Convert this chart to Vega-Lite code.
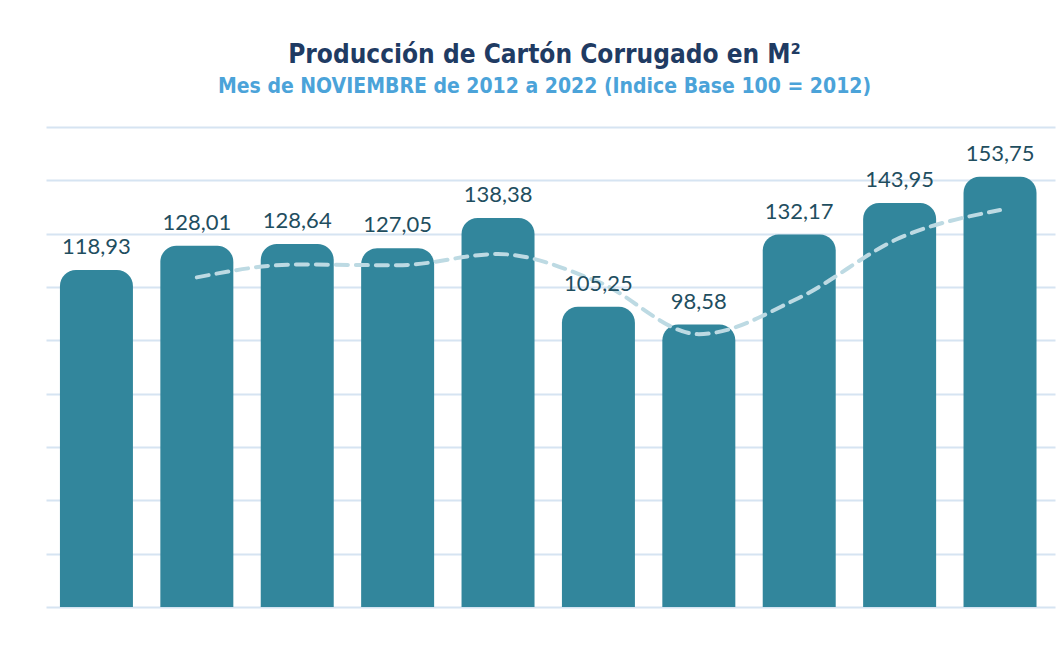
{
  "$schema": "https://vega.github.io/schema/vega-lite/v6.json",
  "width": 1009,
  "height": 480,
  "autosize": {"type": "none"},
  "padding": {"left": 46, "top": 127, "right": 9, "bottom": 46},
  "background": "white",
  "config": {
    "view": {"stroke": null},
    "locale": {"number": {"decimal": ",", "thousands": ".", "grouping": [3], "currency": ["", "€"]}}
  },
  "title": {
    "text": "Producción de Cartón Corrugado en M²",
    "subtitle": "Mes de NOVIEMBRE de 2012 a 2022 (Indice Base 100 = 2012)",
    "anchor": "middle",
    "font": "DejaVu Sans Condensed",
    "fontSize": 26,
    "fontWeight": "bold",
    "color": "#1F3B63",
    "subtitleFont": "DejaVu Sans Condensed",
    "subtitleFontSize": 21,
    "subtitleFontWeight": "bold",
    "subtitleColor": "#4BA3D9",
    "subtitlePadding": 8,
    "offset": 30,
    "dx": -6
  },
  "data": {
    "values": [
      {"anio": "2013", "valor": 118.93, "tendencia": null},
      {"anio": "2014", "valor": 128.01, "tendencia": 116.2},
      {"anio": "2015", "valor": 128.64, "tendencia": 121.0},
      {"anio": "2016", "valor": 127.05, "tendencia": 120.7},
      {"anio": "2017", "valor": 138.38, "tendencia": 124.9},
      {"anio": "2018", "valor": 105.25, "tendencia": 114.5},
      {"anio": "2019", "valor": 98.58, "tendencia": 95.0},
      {"anio": "2020", "valor": 132.17, "tendencia": 108.6},
      {"anio": "2021", "valor": 143.95, "tendencia": 130.9},
      {"anio": "2022", "valor": 153.75, "tendencia": 141.3}
    ]
  },
  "encoding": {
    "x": {"field": "anio", "type": "ordinal", "axis": null, "scale": {"paddingInner": 0.273, "paddingOuter": 0.1615, "align": 0.43}}
  },
  "layer": [
    {
      "mark": {"type": "bar", "color": "#32869C", "cornerRadiusTopLeft": 16, "cornerRadiusTopRight": 16},
      "encoding": {
        "y": {
          "field": "valor",
          "type": "quantitative",
          "scale": {"domain": [-6.8, 172.3], "nice": false, "zero": false},
          "axis": {
            "values": [-6.8, 13.1, 33.0, 52.9, 72.8, 92.7, 112.6, 132.5, 152.4, 172.3],
            "grid": true,
            "gridColor": "#D6E4F2",
            "gridWidth": 2,
            "labels": false,
            "ticks": false,
            "domain": false,
            "title": null
          }
        },
        "y2": {"datum": -6.8}
      }
    },
    {
      "mark": {"type": "line", "color": "#BDDAE3", "strokeWidth": 4, "strokeDash": [12, 8], "interpolate": "monotone", "strokeCap": "round"},
      "encoding": {"y": {"field": "tendencia", "type": "quantitative"}}
    },
    {
      "mark": {"type": "text", "baseline": "bottom", "dy": -11, "font": "Lato", "fontSize": 22, "color": "#1F4E5F"},
      "encoding": {
        "y": {"field": "valor", "type": "quantitative"},
        "text": {"field": "valor", "type": "quantitative", "format": ".2f"}
      }
    }
  ]
}
